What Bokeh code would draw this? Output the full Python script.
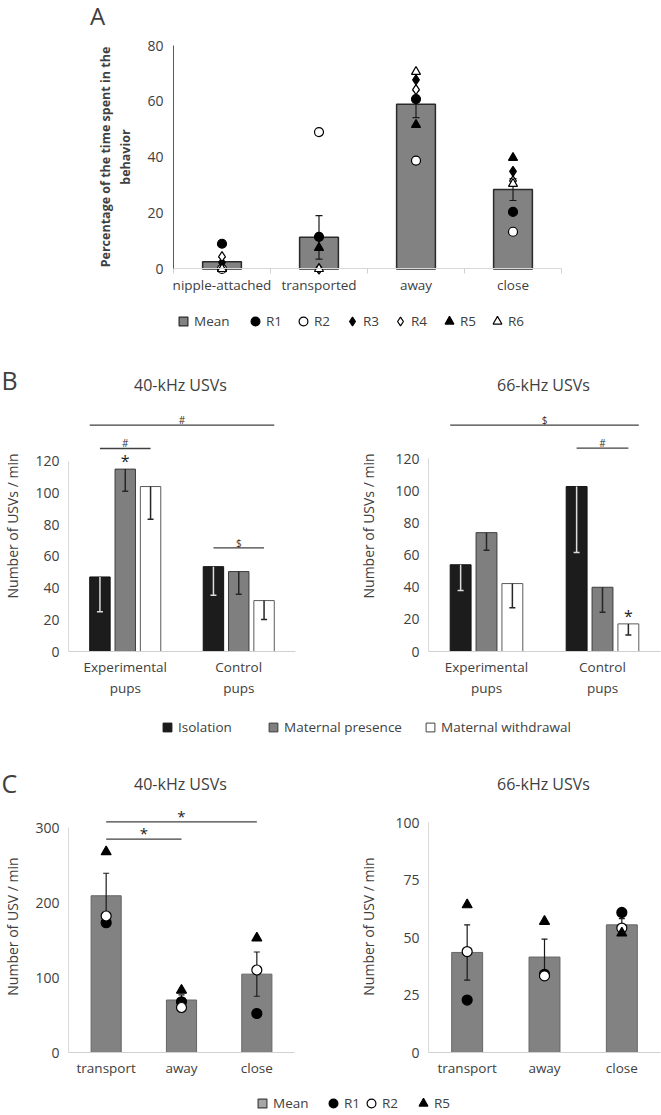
from bokeh.plotting import figure
from bokeh.models import (Range1d, FixedTicker, Label, Legend, LegendItem, ColumnDataSource)
from bokeh.layouts import column, row
from bokeh.embed import file_html
from bokeh.resources import INLINE
from bokeh.core.properties import value

FONT = "Open Sans"
TXT = "#404040"
NAN = float("nan")

# ---------------- Panel A data ----------------
behaviors_A = ["nipple-attached", "transported", "away", "close"]
mean_A = [2.6, 11.3, 59.0, 28.4]
sem_A = [1.5, 7.8, 4.8, 3.9]
R1_A = [9.0, 11.5, 60.8, 20.4]
R2_A = [0.0, 49.0, 38.8, 13.3]
R3_A = [2.3, 0.0, 67.7, 34.9]
R4_A = [4.4, 0.0, 64.2, 31.5]
R5_A = [0.0, 7.6, 51.6, 39.8]
R6_A = [0.0, 0.0, 70.6, 30.5]
ticks_A = [0, 20, 40, 60, 80]

# ---------------- Panel B data ----------------
pup_groups = ["Experimental pups", "Control pups"]
conditions = ["Isolation", "Maternal presence", "Maternal withdrawal"]
b40_iso = [47.0, 53.5]
b40_iso_err = [22.0, 18.0]
b40_pres = [115.0, 50.4]
b40_pres_err = [14.0, 14.3]
b40_wd = [104.0, 32.1]
b40_wd_err = [20.6, 12.0]
b66_iso = [54.0, 102.7]
b66_iso_err = [16.0, 41.0]
b66_pres = [74.0, 40.0]
b66_pres_err = [11.0, 15.5]
b66_wd = [42.3, 17.2]
b66_wd_err = [15.0, 7.0]
ticks_B = [0, 20, 40, 60, 80, 100, 120]
# (label, group from, condition from, group to, condition to, y, spans outer edges)
b40_brackets = [("#", "Experimental pups", "Isolation", "Control pups", "Maternal withdrawal", 142.7, True),
                ("#", "Experimental pups", "Isolation", "Experimental pups", "Maternal withdrawal", 128.0, False),
                ("$", "Control pups", "Isolation", "Control pups", "Maternal withdrawal", 65.3, False)]
b66_brackets = [("$", "Experimental pups", "Isolation", "Control pups", "Maternal withdrawal", 141.0, True),
                ("#", "Control pups", "Isolation", "Control pups", "Maternal withdrawal", 126.6, False)]
b40_stars = [("Experimental pups", "Maternal presence")]
b66_stars = [("Control pups", "Maternal withdrawal")]

# ---------------- Panel C data ----------------
behaviors_C = ["transport", "away", "close"]
c40_mean = [209.0, 70.0, 104.5]
c40_sem = [30.0, 6.8, 29.5]
c40_R1 = [173.0, 67.6, 52.0]
c40_R2 = [182.0, 60.0, 110.0]
c40_R5 = [267.6, 83.0, 152.5]
c66_mean = [43.5, 41.5, 55.5]
c66_sem = [12.0, 7.8, 2.7]
c66_R1 = [22.8, 34.0, 60.9]
c66_R2 = [43.9, 33.3, 54.1]
c66_R5 = [64.2, 57.0, 51.9]
ticks_C40 = [0, 100, 200, 300]
ticks_C66 = [0, 25, 50, 75, 100]
c40_brackets = [("*", "transport", "away", 284.5), ("*", "transport", "close", 307.6)]
c66_brackets = []

# ---------------- styles ----------------
BAR_GRAY = "#828282"
cond_fill = ["#1c1c1c", "#7f7f7f", "#ffffff"]
cond_line = ["#111111", "#3c3c3c", "#5a5a5a"]
cond_err = ["#dcdcdc", "#262626", "#262626"]
B_OFFSETS = [-0.223, 0.0, 0.223]
B_WIDTH = 0.18

MARK = {
    "R1": dict(marker="circle", fill_color="black", line_color="black"),
    "R2": dict(marker="circle", fill_color="white", line_color="black"),
    "R3": dict(marker="diamond", fill_color="black", line_color="black"),
    "R4": dict(marker="diamond", fill_color="white", line_color="black"),
    "R5": dict(marker="triangle", fill_color="black", line_color="black"),
    "R6": dict(marker="triangle", fill_color="white", line_color="black"),
}


def style_axes(p):
    p.outline_line_color = None
    p.xgrid.visible = False
    p.ygrid.visible = False
    for ax in (p.xaxis[0], p.yaxis[0]):
        ax.major_tick_out = 0
        ax.major_tick_in = 0
        ax.minor_tick_out = 0
        ax.minor_tick_in = 0
        ax.major_label_text_font = FONT
        ax.major_label_text_color = TXT
        ax.major_label_text_font_size = "14px"
        ax.axis_label_text_font = FONT
        ax.axis_label_text_color = TXT
        ax.axis_label_text_font_style = "normal"
        ax.axis_label_text_font_size = "14px"
        ax.axis_line_color = "#d9d9d9"


def base_fig(width, height, n_cat, y_range, left, right, top, bottom):
    p = figure(width=width, height=height, x_range=Range1d(0, n_cat), y_range=y_range,
               output_backend="svg", toolbar_location=None, title=None, frame_align=False,
               min_border_left=left, min_border_right=right,
               min_border_top=top, min_border_bottom=bottom)
    style_axes(p)
    return p


def strip(width, height):
    s = figure(width=width, height=height, x_range=Range1d(0, 1), y_range=Range1d(0, 1),
               x_axis_type=None, y_axis_type=None, output_backend="svg",
               toolbar_location=None, title=None, min_border=0, frame_align=False)
    s.outline_line_color = None
    return s


def add_text_label(p, text, x, y, size, align="center"):
    p.add_layout(Label(x=x, y=y, x_units="screen", y_units="screen", text=text,
                       text_align=align, text_baseline="middle", text_font=FONT,
                       text_font_size=size, text_color=TXT))


LEG_STYLE = dict(orientation="horizontal", padding=0, margin=0, glyph_width=22, glyph_height=22,
                 label_standoff=0, label_height=22, label_width=10,
                 label_text_font=FONT, label_text_font_size="13.5px",
                 label_text_color=TXT, border_line_color=None, background_fill_alpha=0)


def add_legend_item(p, renderer, label, x_left, y_bottom):
    p.add_layout(Legend(items=[LegendItem(label=label, renderers=[renderer])],
                        location=(x_left, y_bottom), spacing=0, **LEG_STYLE))


# ================= Panel A (frame spans the whole canvas, axes fixed at 0) =================
A_W, A_H = 661, 336
A_X0, A_Y0 = 173.0, 268.4      # canvas position of the data origin
A_SX, A_SY = 97.0, 2.7925      # pixels per data unit
pA = figure(width=A_W, height=A_H,
            x_range=Range1d(-A_X0 / A_SX, (A_W - A_X0) / A_SX),
            y_range=Range1d(-(A_H - A_Y0) / A_SY, A_Y0 / A_SY),
            output_backend="svg", toolbar_location=None, title=None,
            min_border=0, frame_align=False)
style_axes(pA)
xA = [i + 0.5 for i in range(len(behaviors_A))]
srcA = ColumnDataSource(dict(x=xA, mean=mean_A,
                             lo=[m - s for m, s in zip(mean_A, sem_A)],
                             hi=[m + s for m, s in zip(mean_A, sem_A)],
                             R1=R1_A, R2=R2_A, R3=R3_A, R4=R4_A, R5=R5_A, R6=R6_A))
pA.vbar(x="x", top="mean", width=0.4, source=srcA, fill_color=BAR_GRAY,
        line_color="#2a2a2a", line_width=1.5)
pA.segment(x0="x", y0="lo", x1="x", y1="hi", source=srcA, line_color="#1a1a1a", line_width=1.2)
pA.scatter(x="x", y="lo", marker="dash", size=7, source=srcA, line_color="#1a1a1a", line_width=1.2)
pA.scatter(x="x", y="hi", marker="dash", size=7, source=srcA, line_color="#1a1a1a", line_width=1.2)
rA = {}
for key in ["R1", "R2", "R3", "R4", "R5", "R6"]:
    size = 10 if "diamond" in MARK[key]["marker"] else 9
    rA[key] = pA.scatter(x="x", y=key, size=size, line_width=1.2, source=srcA, **MARK[key])
meanA_dummy = pA.scatter(x=[0], y=[NAN], marker="square", fill_color=BAR_GRAY,
                         line_color="#2a2a2a", line_width=1.2)

pA.xaxis.fixed_location = 0
pA.xaxis.bounds = (0, len(behaviors_A))
pA.xaxis.ticker = FixedTicker(ticks=xA, minor_ticks=list(range(len(behaviors_A) + 1)))
pA.xaxis.major_label_overrides = {x: b for x, b in zip(xA, behaviors_A)}
pA.xaxis.minor_tick_out = 5
pA.xaxis.minor_tick_line_color = "#d0d0d0"
pA.xaxis.major_label_text_font_size = "13.5px"
pA.xaxis.major_label_standoff = 2
pA.yaxis.fixed_location = 0
pA.yaxis.bounds = (0, 80)
pA.yaxis.ticker = FixedTicker(ticks=ticks_A)
pA.yaxis.axis_line_color = "#595959"
pA.yaxis.major_label_standoff = 10
pA.yaxis.axis_label = "Percentage of the time spent in the\nbehavior"
pA.yaxis.axis_label_text_font_style = "bold"
pA.yaxis.axis_label_text_font_size = "12.5px"
pA.yaxis.axis_label_standoff = 10
add_text_label(pA, "A", 97, A_H - 15, "24px")

legA_centers = [183, 255, 303, 352, 400, 449, 497]
legA_items = [("Mean", meanA_dummy)] + [(k, rA[k]) for k in ["R1", "R2", "R3", "R4", "R5", "R6"]]
for cx, (lab, r) in zip(legA_centers, legA_items):
    add_legend_item(pA, r, lab, cx - 11, A_H - 321 - 11)

# ================= Header B =================
hB = strip(661, 64)
add_text_label(hB, "B", 1, 21, "25px", align="left")
add_text_label(hB, "40-kHz USVs", 180, 16, "16px")
add_text_label(hB, "66-kHz USVs", 543, 16, "16px")


# ================= Panel B =================
def panel_B(width, left, right, y_end, means, errs, brackets, stars, label_standoff):
    p = base_fig(width, 305, len(pup_groups), Range1d(0, y_end), left, right, 0, 54)

    def bx(group, cond, side=0):
        return pup_groups.index(group) + 0.5 + B_OFFSETS[conditions.index(cond)] + side * B_WIDTH / 2

    for ci, cond in enumerate(conditions):
        src = ColumnDataSource(dict(x=[bx(g, cond) for g in pup_groups], top=means[ci],
                                    low=[m - e for m, e in zip(means[ci], errs[ci])]))
        p.vbar(x="x", top="top", width=B_WIDTH, source=src, fill_color=cond_fill[ci],
               line_color=cond_line[ci], line_width=1)
        p.segment(x0="x", y0="top", x1="x", y1="low", source=src, line_color=cond_err[ci], line_width=1.5)
        p.scatter(x="x", y="low", marker="dash", size=6, source=src, line_color=cond_err[ci], line_width=1.5)

    bsrc = dict(x0=[], x1=[], xm=[], y=[], label=[])
    for lab, g0, c0, g1, c1, yv, outer in brackets:
        x0 = bx(g0, c0, -1 if outer else 0)
        x1 = bx(g1, c1, 1 if outer else 0)
        bsrc["x0"].append(x0); bsrc["x1"].append(x1); bsrc["xm"].append((x0 + x1) / 2)
        bsrc["y"].append(yv); bsrc["label"].append(lab)
    bs = ColumnDataSource(bsrc)
    p.segment(x0="x0", y0="y", x1="x1", y1="y", source=bs, line_color="#404040", line_width=1.3)
    p.text(x="xm", y="y", text="label", source=bs, text_align="center", text_baseline="alphabetic",
           y_offset=-5, text_font=value(FONT), text_font_size="10px", text_color="#333333")

    ssrc = ColumnDataSource(dict(
        x=[bx(g, c) for g, c in stars],
        y=[means[conditions.index(c)][pup_groups.index(g)] for g, c in stars],
        t=["*"] * len(stars)))
    p.text(x="x", y="y", text="t", source=ssrc, text_align="center", text_baseline="alphabetic",
           y_offset=-8, text_font=value(FONT), text_font_size="16px", text_color="#222222")

    xt = [i + 0.5 for i in range(len(pup_groups))]
    p.xaxis.ticker = FixedTicker(ticks=xt)
    p.xaxis.major_label_overrides = {x: g.replace(" ", "\n") for x, g in zip(xt, pup_groups)}
    p.xaxis.major_label_text_font_size = "13.5px"
    p.xaxis.major_label_standoff = 6
    p.xaxis.axis_line_color = "#d0d0d0"
    p.yaxis.ticker = FixedTicker(ticks=ticks_B)
    p.yaxis.bounds = (0, 120)
    p.yaxis.axis_label = "Number of USVs / min"
    p.yaxis.major_label_standoff = 9
    p.yaxis.axis_label_standoff = label_standoff
    return p


pB1 = panel_B(330, 62, 35, 251 / 1.586,
              [b40_iso, b40_pres, b40_wd], [b40_iso_err, b40_pres_err, b40_wd_err],
              b40_brackets, b40_stars, 10)
pB2 = panel_B(331, 98, 1, 251 / 1.606,
              [b66_iso, b66_pres, b66_wd], [b66_iso_err, b66_pres_err, b66_wd_err],
              b66_brackets, b66_stars, 14)

# legend B
pLB = strip(661, 45)
legB_centers = [167, 273, 430]
for ci, (cond, cx) in enumerate(zip(conditions, legB_centers)):
    r = pLB.scatter(x=[0], y=[NAN], marker="square", fill_color=cond_fill[ci],
                    line_color=cond_line[ci] if ci < 2 else "#404040", line_width=1)
    add_legend_item(pLB, r, cond, cx - 11, 12)

# ================= Header C =================
hC = strip(661, 50)
add_text_label(hC, "C", 1, 18, "25px", align="left")
add_text_label(hC, "40-kHz USVs", 180, 17, "16px")
add_text_label(hC, "66-kHz USVs", 543, 17, "16px")


# ================= Panel C =================
def panel_C(width, left, right, y_end, mean, sem, r1, r2, r5, ticks, y_top, brackets, label_standoff):
    p = base_fig(width, 280, len(behaviors_C), Range1d(0, y_end), left, right, 0, 28)
    xc = [i + 0.5 for i in range(len(behaviors_C))]
    src = ColumnDataSource(dict(x=xc, mean=mean,
                                lo=[m - s for m, s in zip(mean, sem)],
                                hi=[m + s for m, s in zip(mean, sem)],
                                R1=r1, R2=r2, R5=r5))
    p.vbar(x="x", top="mean", width=0.4, source=src, fill_color="#828282",
           line_color="#666666", line_width=1)
    p.segment(x0="x", y0="lo", x1="x", y1="hi", source=src, line_color="#1a1a1a", line_width=1.2)
    p.scatter(x="x", y="lo", marker="dash", size=6, source=src, line_color="#1a1a1a", line_width=1.2)
    p.scatter(x="x", y="hi", marker="dash", size=6, source=src, line_color="#1a1a1a", line_width=1.2)
    for key in ["R1", "R2", "R5"]:
        p.scatter(x="x", y=key, size=10, line_width=1.2, source=src, **MARK[key])

    bsrc = dict(x0=[], x1=[], xm=[], y=[], label=[])
    for lab, c0, c1, yv in brackets:
        x0 = behaviors_C.index(c0) + 0.5
        x1 = behaviors_C.index(c1) + 0.5
        bsrc["x0"].append(x0); bsrc["x1"].append(x1); bsrc["xm"].append((x0 + x1) / 2)
        bsrc["y"].append(yv); bsrc["label"].append(lab)
    bs = ColumnDataSource(bsrc)
    p.segment(x0="x0", y0="y", x1="x1", y1="y", source=bs, line_color="#404040", line_width=1.3)
    p.text(x="xm", y="y", text="label", source=bs, text_align="center", text_baseline="alphabetic",
           y_offset=-6, text_font=value(FONT), text_font_size="15px", text_color="#222222")

    p.xaxis.ticker = FixedTicker(ticks=xc)
    p.xaxis.major_label_overrides = {x: c for x, c in zip(xc, behaviors_C)}
    p.xaxis.major_label_text_font_size = "13.5px"
    p.xaxis.major_label_standoff = 6
    p.xaxis.axis_line_color = "#d0d0d0"
    p.yaxis.ticker = FixedTicker(ticks=ticks)
    p.yaxis.bounds = (0, y_top)
    p.yaxis.axis_label = "Number of USV / min"
    p.yaxis.major_label_standoff = 9
    p.yaxis.axis_label_standoff = label_standoff
    return p


pC1 = panel_C(330, 62, 36, 252 / 0.75, c40_mean, c40_sem, c40_R1, c40_R2, c40_R5,
              ticks_C40, 300, c40_brackets, 10)
pC2 = panel_C(331, 98, 1, 252 / 2.3, c66_mean, c66_sem, c66_R1, c66_R2, c66_R5,
              ticks_C66, 100, c66_brackets, 14)

# legend C
pLC = strip(661, 34)
legC_centers = [262, 333, 371, 423]
for key, cx in zip(["Mean", "R1", "R2", "R5"], legC_centers):
    st = dict(marker="square", fill_color="#a6a6a6", line_color="#404040") if key == "Mean" else MARK[key]
    r = pLC.scatter(x=[0], y=[NAN], line_width=1.2, **st)
    add_legend_item(pLC, r, key, cx - 11, 0)

layout = column(pA, hB, row(pB1, pB2), pLB, hC, row(pC1, pC2), pLC)
open("out.html", "w").write(file_html(layout, INLINE))
